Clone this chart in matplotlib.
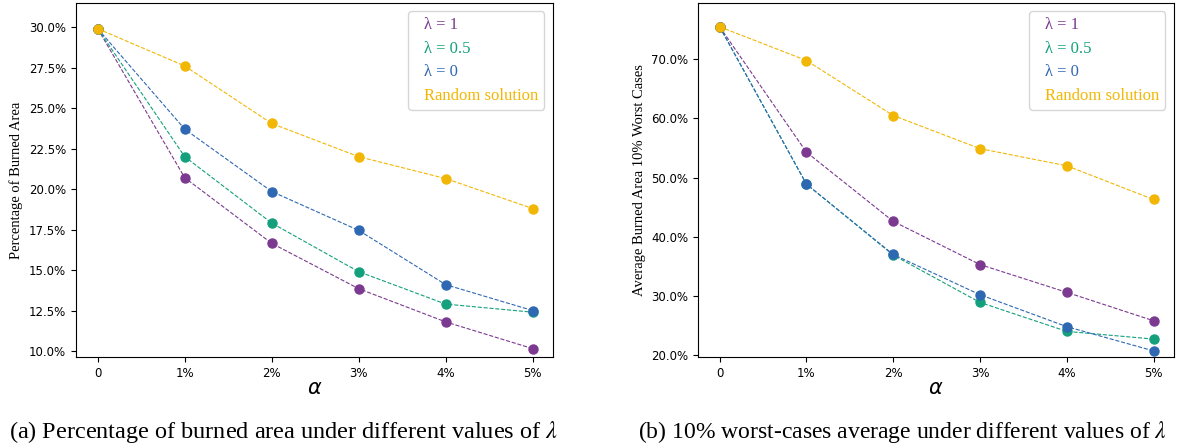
import numpy as np
import matplotlib
matplotlib.use('Agg')
import matplotlib.pyplot as plt
from matplotlib.ticker import PercentFormatter

alpha = [0, 1, 2, 3, 4, 5]
xticklabels = ['0', '1%', '2%', '3%', '4%', '5%']
labels = ['λ = 1', 'λ = 0.5', 'λ = 0', 'Random solution']
colors = ['#7b3a90', '#14a07c', '#2f68b2', '#f2b705']

# (a) percentage of burned area
burned_l1 = [29.9, 20.7, 16.65, 13.85, 11.8, 10.15]
burned_l05 = [29.9, 22.0, 17.9, 14.9, 12.9, 12.4]
burned_l0 = [29.9, 23.7, 19.85, 17.45, 14.1, 12.5]
burned_rand = [29.9, 27.6, 24.05, 22.0, 20.65, 18.8]

# (b) 10% worst cases average
worst_l1 = [75.5, 54.3, 42.6, 35.3, 30.6, 25.8]
worst_l05 = [75.5, 48.9, 36.9, 28.9, 24.0, 22.7]
worst_l0 = [75.5, 48.9, 37.0, 30.2, 24.8, 20.7]
worst_rand = [75.5, 69.8, 60.5, 54.9, 52.0, 46.3]

fig = plt.figure(figsize=(11.8, 4.48), dpi=100)
ax1 = fig.add_axes([0.0644, 0.203, 0.404, 0.790])
ax2 = fig.add_axes([0.5915, 0.203, 0.403, 0.790])


def draw(ax, series, ylabel, ylim, yticks):
    for s, c, lab in zip(series, colors, labels):
        ax.plot(alpha, s, '--', color=c, lw=0.8, marker='o', ms=6.5, label=lab)
    ax.set_xticks(alpha)
    ax.set_xticklabels(xticklabels, fontsize=8.5)
    ax.set_yticks(yticks)
    ax.yaxis.set_major_formatter(PercentFormatter(decimals=1))
    ax.tick_params(axis='y', labelsize=8.5)
    ax.set_xlim(-0.25, 5.23)
    ax.set_ylim(*ylim)
    ax.set_xlabel(r'$\alpha$', fontsize=15, math_fontfamily='dejavusans', labelpad=-1)
    ax.set_ylabel(ylabel, fontsize=10.5, fontfamily='Liberation Serif')
    leg = ax.legend(loc='upper right', handlelength=0, handletextpad=0.6,
                    prop={'family': 'Liberation Serif', 'size': 12},
                    borderpad=0.35, labelspacing=0.45)
    for t, c in zip(leg.get_texts(), colors):
        t.set_color(c)
    for h in leg.legend_handles:
        h.set_visible(False)


draw(ax1, [burned_l1, burned_l05, burned_l0, burned_rand],
     'Percentage of Burned Area', (9.63, 31.48), np.arange(10, 30.1, 2.5))
draw(ax2, [worst_l1, worst_l05, worst_l0, worst_rand],
     'Average Burned Area 10% Worst Cases', (19.66, 79.5), np.arange(20, 70.1, 10))

fig.text(0.24, 0.036, r'(a) Percentage of burned area under different values of $\mathit{\lambda}$',
         ha='center', va='center', fontsize=17.5, fontfamily='Liberation Serif',
         math_fontfamily='stix')
fig.text(0.765, 0.036, r'(b) 10% worst-cases average under different values of $\mathit{\lambda}$',
         ha='center', va='center', fontsize=17, fontfamily='Liberation Serif',
         math_fontfamily='stix')

fig.savefig('out.png', dpi=100)
